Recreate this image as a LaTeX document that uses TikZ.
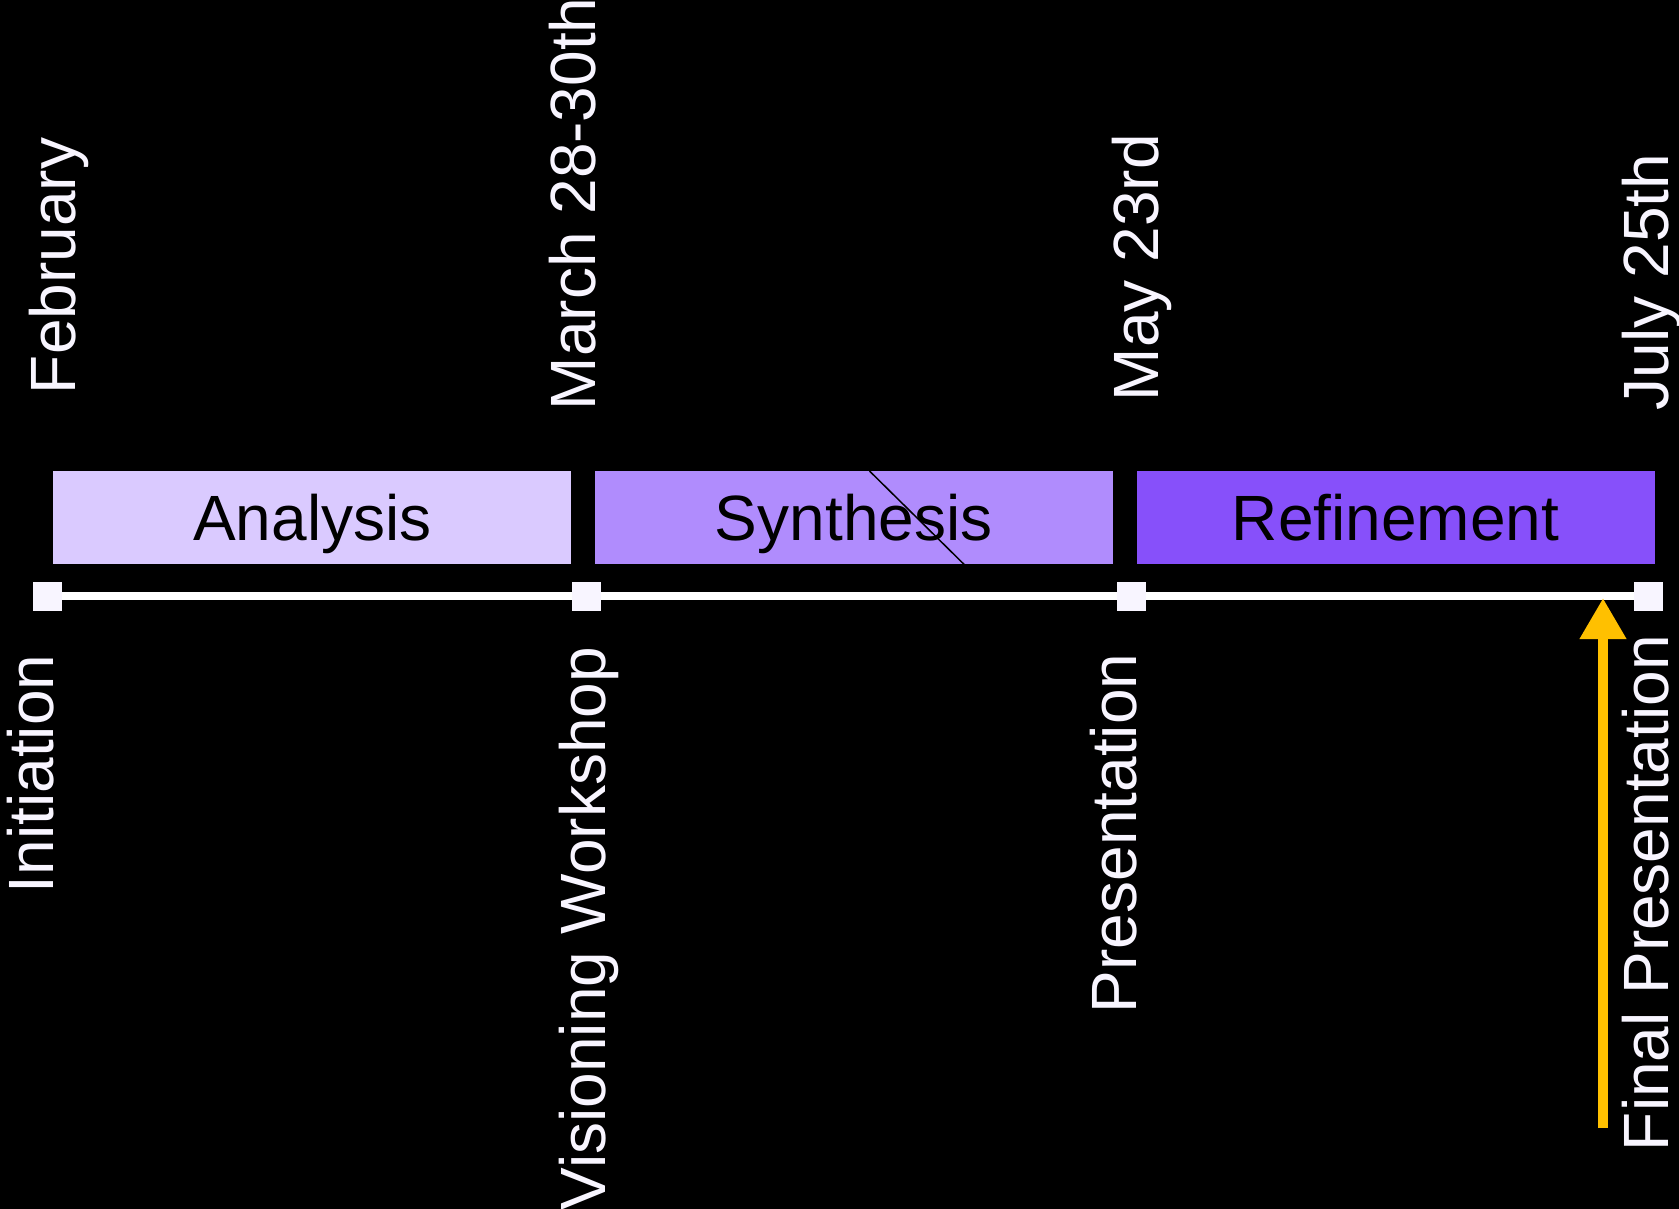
\documentclass[tikz,border=0pt]{standalone}
\usepackage{fontspec}
\setmainfont{Liberation Sans}
\usetikzlibrary{arrows.meta}
\definecolor{phaseA}{HTML}{DACAFF}
\definecolor{phaseB}{HTML}{B08CFD}
\definecolor{phaseC}{HTML}{8750FA}
\definecolor{labelwhite}{HTML}{F8F5FF}
\definecolor{gold}{HTML}{FFC000}
\tikzset{
  bigfont/.style={font=\fontsize{64}{77}\selectfont},
  phasebox/.style={bigfont, draw=none, minimum width=518pt, minimum height=93.3pt, inner sep=0pt, outer sep=0pt, text=black, text height=46pt, text depth=0pt},
  milestone/.style={fill=labelwhite, draw=none, minimum width=29pt, minimum height=29pt, inner sep=0pt, outer sep=0pt},
  datelabel/.style={bigfont, text=labelwhite, rotate=90, anchor=base west, inner sep=0pt, outer sep=0pt},
  eventlabel/.style={bigfont, text=labelwhite, rotate=90, anchor=base west, inner sep=0pt, outer sep=0pt},
  timeline/.style={draw=white, line width=7.5pt},
  goldarrow/.style={draw=gold, line width=10.7pt, -{Triangle[width=44pt,length=41pt]}}
}
\begin{document}
\begin{tikzpicture}[x=1pt,y=-1pt]
\fill[black] (0,0) rectangle (1679,1209);
\useasboundingbox (0,0) rectangle (1679,1209);
% phase boxes
\node[phasebox, fill=phaseA] (ana) at (312.4,517.7) {Analysis};
\node[phasebox, fill=phaseB] (syn) at (853.7,517.7) {Synthesis};
\node[phasebox, fill=phaseC] (ref) at (1395.6,517.7) {Refinement};
\draw[black, line width=1.5pt] (869.5,471) -- (964,564.3);
% milestones
\node[milestone] (m1) at (47.4,596) {};
\node[milestone] (m2) at (586.8,596) {};
\node[milestone] (m3) at (1131,596) {};
\node[milestone] (m4) at (1648.4,596) {};
\draw[timeline] (m1) -- (m2);
\draw[timeline] (m2) -- (m3);
\draw[timeline] (m3) -- (m4);
% date labels
\node[datelabel] (d1) at (75.1,394) {February};
\node[datelabel] (d2) at (595,410) {March 28-30th};
\node[datelabel] (d3) at (1158.3,401) {May 23rd};
\node[datelabel] (d4) at (1668.3,410) {July 25th};
% event labels
\node[eventlabel] (e1) at (53.3,893) {Initiation};
\node[eventlabel, anchor=base east] (e2) at (605,647) {Visioning Workshop};
\node[eventlabel] (e3) at (1136.7,1013) {Presentation};
\node[eventlabel] (e4) at (1668.3,1151) {Final Presentation};
% arrow
\coordinate (fptail) at (1603,1128);
\coordinate (fptip) at (1603,598);
\draw[goldarrow] (fptail) -- (fptip);
\end{tikzpicture}
\end{document}
